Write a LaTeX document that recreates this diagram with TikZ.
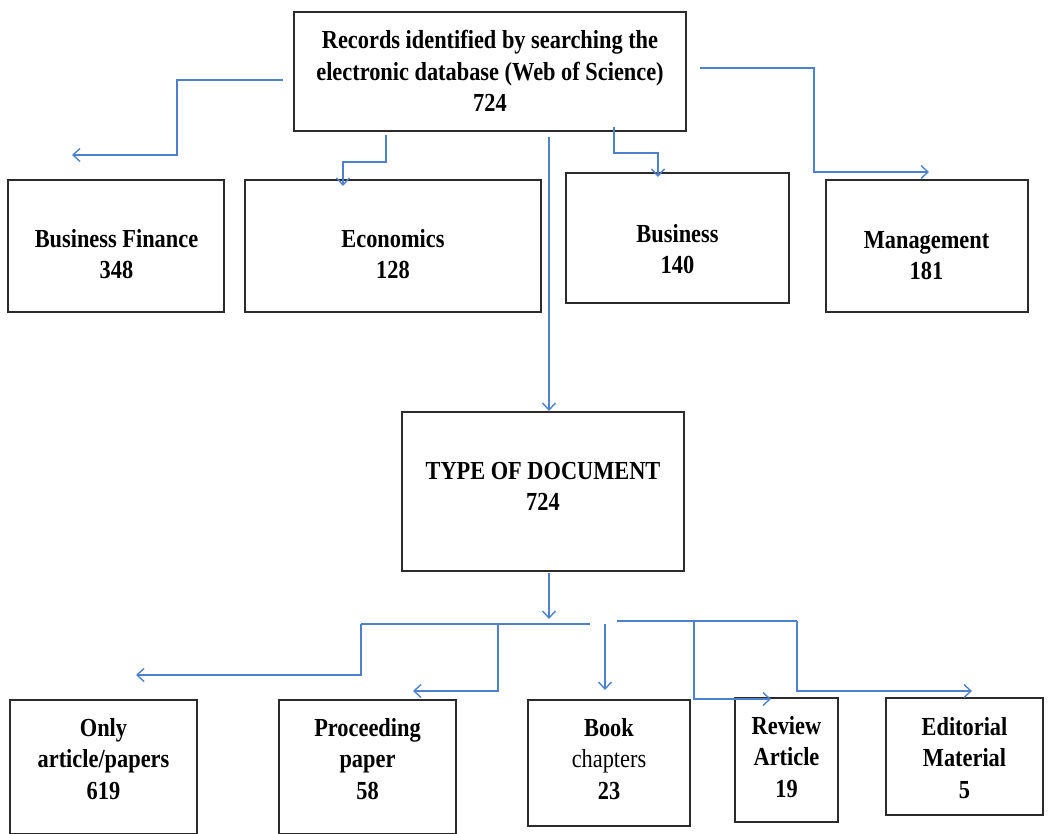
\documentclass[tikz,border=0pt]{standalone}
\usepackage{fontspec}
\setmainfont{Liberation Serif}[FakeStretch=0.86]
\usepackage{tikz}
\usetikzlibrary{arrows.meta,positioning}
\definecolor{wosblue}{HTML}{4F80CC}
\definecolor{wosline}{HTML}{2B2B2B}

\begin{document}
\begin{tikzpicture}[
  x=1pt,y=-1pt,
  every node/.style={font=\fontsize{26}{31.5}\selectfont\bfseries,align=center},
  B/.style={draw=wosline,line width=1.4pt,inner sep=0pt},
  ln/.style={wosblue,line width=1.4pt},
  ar/.style={-{Straight Barb[length=7pt,width=13pt]},ln}
]
\useasboundingbox (0,0) rectangle (1057,834);

% boxes
\node[B,minimum width=392,minimum height=119](R) at (490,71.5){};
\node[B,minimum width=216,minimum height=132](BF) at (116,246){};
\node[B,minimum width=296,minimum height=132](Eco) at (393,246){};
\node[B,minimum width=223,minimum height=130](Bus) at (677.5,238){};
\node[B,minimum width=202,minimum height=132](Man) at (927,246){};
\node[B,minimum width=282,minimum height=159](T) at (543,491.5){};
\node[B,minimum width=187,minimum height=134](Art) at (103.5,767){};
\node[B,minimum width=177,minimum height=134](Proc) at (367.5,767){};
\node[B,minimum width=162,minimum height=126](Book) at (609,763){};
\node[B,minimum width=103,minimum height=124](Rev) at (786.5,760){};
\node[B,minimum width=157,minimum height=117](Ed) at (964.5,756.5){};

% texts
\node(Rt) at (490,71)
     {Records identified by searching the\\electronic database (Web of Science)\\724};
\node(BFt) at (116.5,254){Business Finance\\348};
\node(Ecot) at (393,254){Economics\\128};
\node(Bust) at (677.5,249){Business\\140};
\node(Mant) at (926.5,255.5){Management\\181};
\node(Tt) at (543,486.5){TYPE OF DOCUMENT\\724};
\node(Artt) at (103.5,759){Only\\article/papers\\619};
\node(Proct) at (367.5,759){Proceeding\\paper\\58};
\node(Bookt) at (609,759){Book\\{\mdseries chapters}\\23};
\node(Revt) at (786.5,757){Review\\Article\\19};
\node(Edt) at (964.5,758){Editorial\\Material\\5};

\coordinate (r1) at (283,80);  \coordinate (r1k) at (177,155); \coordinate (bf1) at (72,155);
\coordinate (r2) at (386,135); \coordinate (r2k) at (343,162); \coordinate (e2) at (343,186);
\coordinate (r3) at (614,127); \coordinate (r3k) at (658,153); \coordinate (b3) at (658,177);
\coordinate (r4) at (700,68);  \coordinate (r4k) at (814,172); \coordinate (m4) at (929,172);
\coordinate (r5) at (549,137); \coordinate (t5) at (549,411);
\coordinate (t6) at (549,573); \coordinate (t6k) at (549,619);

\draw[ar](r1)-|(r1k)--(bf1);
\draw[ar](r2)|-(r2k)--(e2);
\draw[ar](r3)|-(r3k)--(b3);
\draw[ar](r4)-|(r4k)--(m4);
\draw[ar](r5)--(t5);
\draw[ar](t6)--(t6k);

\coordinate (h1) at (361,624); \coordinate (h2) at (590,624);
\coordinate (h3) at (498,624); \coordinate (h4) at (605,624);
\coordinate (h5) at (617,621); \coordinate (h6) at (797,621);
\coordinate (h7) at (694,621);
\coordinate (pA) at (136,675); \coordinate (pP) at (413,691);
\coordinate (pB) at (605,690); \coordinate (pR) at (771,699);
\coordinate (pE) at (972,691);

\draw[ln](h1)--(h2);
\draw[ln](h5)--(h6);
\draw[ar](h1)|-(pA);
\draw[ar](h3)|-(pP);
\draw[ar](h4)--(pB);
\draw[ar](h7)|-(pR);
\draw[ar](h6)|-(pE);
\end{tikzpicture}
\end{document}
